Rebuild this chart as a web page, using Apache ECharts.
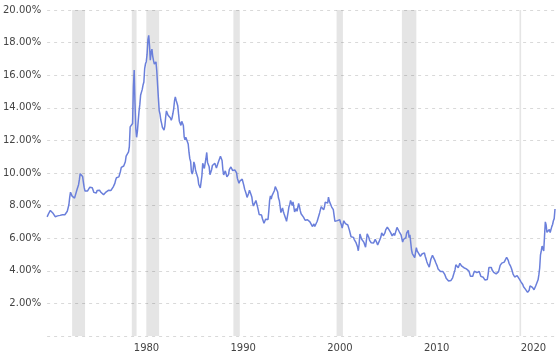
<!DOCTYPE html>
<html>
<head>
<meta charset="utf-8">
<script src="https://cdn.jsdelivr.net/npm/echarts@6/dist/echarts.min.js"></script>
<style>
  html, body { margin: 0; padding: 0; background: #fff; }
  #chart { width: 560px; height: 355px; }
</style>
</head>
<body>
<div id="chart"></div>
<script>
// 30-year fixed mortgage rate, monthly, starting April 1971
const startYear = 1971;
const startMonth = 4;
const rates = [
  /*1971*/ 7.31, 7.43, 7.53, 7.60, 7.70, 7.69, 7.63, 7.55, 7.48,
  /*1972*/ 7.44, 7.32, 7.29, 7.29, 7.37, 7.37, 7.40, 7.40, 7.43, 7.45, 7.44, 7.44,
  /*1973*/ 7.44, 7.44, 7.46, 7.54, 7.65, 7.73, 8.05, 8.50, 8.82, 8.77, 8.58, 8.54,
  /*1974*/ 8.54, 8.46, 8.41, 8.58, 8.97, 9.09, 9.28, 9.59, 9.96, 10.02, 9.98, 9.79,
  /*1975*/ 9.43, 9.10, 8.89, 8.82, 8.91, 8.89, 8.84, 8.95, 9.13, 9.22, 9.14, 9.10,
  /*1976*/ 9.02, 8.81, 8.76, 8.73, 8.77, 8.92, 8.99, 8.98, 8.94, 8.86, 8.80, 8.73,
  /*1977*/ 8.72, 8.67, 8.69, 8.75, 8.83, 8.86, 8.94, 8.94, 8.90, 8.92, 8.92, 8.96,
  /*1978*/ 9.02, 9.15, 9.20, 9.36, 9.57, 9.71, 9.74, 9.78, 9.76, 9.86, 10.11, 10.35,
  /*1979*/ 10.39, 10.41, 10.43, 10.50, 10.69, 11.04, 11.09, 11.09, 11.30, 11.64, 12.83, 12.90,
  /*1980*/ 12.88, 13.04, 15.28, 16.32, 14.26, 12.71, 12.19, 12.56, 13.20, 13.79, 14.21, 14.79,
  /*1981*/ 14.90, 15.13, 15.40, 15.58, 16.40, 16.70, 16.83, 17.29, 18.16, 18.45, 17.83, 16.92,
  /*1982*/ 17.40, 17.60, 17.16, 16.89, 16.68, 16.70, 16.82, 16.27, 15.43, 14.61, 13.83, 13.62,
  /*1983*/ 13.25, 13.04, 12.80, 12.78, 12.63, 12.87, 13.42, 13.81, 13.73, 13.54, 13.44, 13.42,
  /*1984*/ 13.37, 13.23, 13.39, 13.65, 13.94, 14.42, 14.67, 14.47, 14.35, 14.13, 13.64, 13.18,
  /*1985*/ 13.08, 12.92, 13.17, 13.20, 12.91, 12.22, 12.03, 12.19, 12.19, 12.14, 11.78, 11.26,
  /*1986*/ 10.88, 10.71, 10.08, 9.94, 10.14, 10.68, 10.51, 10.20, 10.01, 9.98, 9.70, 9.31,
  /*1987*/ 9.20, 9.08, 9.04, 9.83, 10.60, 10.54, 10.28, 10.33, 10.89, 11.26, 10.65, 10.64,
  /*1988*/ 10.38, 9.89, 9.93, 10.20, 10.46, 10.46, 10.43, 10.60, 10.48, 10.30, 10.27, 10.61,
  /*1989*/ 10.73, 10.65, 11.03, 11.05, 10.77, 10.20, 9.88, 9.99, 10.13, 9.95, 9.77, 9.74,
  /*1990*/ 9.90, 10.20, 10.27, 10.37, 10.48, 10.16, 10.04, 10.10, 10.18, 10.18, 10.01, 9.67,
  /*1991*/ 9.64, 9.37, 9.50, 9.49, 9.47, 9.62, 9.58, 9.24, 9.01, 8.86, 8.71, 8.50,
  /*1992*/ 8.43, 8.76, 8.94, 8.85, 8.67, 8.51, 8.13, 7.98, 7.92, 8.09, 8.31, 8.22,
  /*1993*/ 7.92, 7.71, 7.46, 7.46, 7.47, 7.42, 7.21, 7.11, 6.92, 6.83, 7.16, 7.17,
  /*1994*/ 7.06, 7.15, 7.68, 8.32, 8.60, 8.40, 8.61, 8.51, 8.64, 8.93, 9.17, 9.20,
  /*1995*/ 9.15, 8.83, 8.46, 8.32, 7.96, 7.57, 7.61, 7.86, 7.64, 7.48, 7.38, 7.20,
  /*1996*/ 7.03, 7.08, 7.62, 7.93, 8.07, 8.32, 8.25, 8.00, 8.23, 7.92, 7.62, 7.60,
  /*1997*/ 7.82, 7.65, 7.90, 8.14, 7.94, 7.69, 7.50, 7.48, 7.43, 7.29, 7.21, 7.10,
  /*1998*/ 6.99, 7.04, 7.13, 7.14, 7.14, 7.00, 6.95, 6.92, 6.72, 6.71, 6.87, 6.72,
  /*1999*/ 6.79, 6.81, 7.04, 6.92, 7.15, 7.55, 7.63, 7.94, 7.82, 7.85, 7.74, 7.91,
  /*2000*/ 8.21, 8.33, 8.24, 8.15, 8.52, 8.29, 8.15, 8.03, 7.91, 7.80, 7.75, 7.38,
  /*2001*/ 7.03, 7.05, 6.95, 7.08, 7.15, 7.16, 7.13, 6.95, 6.82, 6.62, 6.66, 7.07,
  /*2002*/ 7.00, 6.89, 7.01, 6.99, 6.81, 6.65, 6.49, 6.29, 6.09, 6.11, 6.07, 6.05,
  /*2003*/ 5.92, 5.84, 5.75, 5.81, 5.48, 5.23, 5.63, 6.26, 6.15, 5.95, 5.93, 5.88,
  /*2004*/ 5.74, 5.64, 5.45, 5.83, 6.27, 6.29, 6.06, 5.87, 5.75, 5.72, 5.73, 5.75,
  /*2005*/ 5.71, 5.63, 5.93, 5.86, 5.72, 5.58, 5.70, 5.82, 5.77, 6.07, 6.33, 6.27,
  /*2006*/ 6.15, 6.25, 6.32, 6.51, 6.60, 6.68, 6.76, 6.52, 6.40, 6.36, 6.24, 6.14,
  /*2007*/ 6.22, 6.29, 6.16, 6.18, 6.26, 6.66, 6.70, 6.57, 6.38, 6.38, 6.21, 6.10,
  /*2008*/ 5.76, 5.92, 5.97, 5.92, 6.04, 6.32, 6.43, 6.48, 6.04, 6.20, 6.09, 5.29,
  /*2009*/ 5.06, 5.13, 5.00, 4.81, 4.86, 5.42, 5.22, 5.19, 5.06, 4.95, 4.88, 4.93,
  /*2010*/ 5.03, 4.99, 4.97, 5.10, 4.89, 4.74, 4.56, 4.43, 4.35, 4.23, 4.30, 4.71,
  /*2011*/ 4.76, 4.95, 4.84, 4.84, 4.64, 4.51, 4.55, 4.27, 4.11, 4.07, 3.99, 3.96,
  /*2012*/ 3.92, 3.89, 3.95, 3.91, 3.80, 3.68, 3.55, 3.60, 3.50, 3.38, 3.35, 3.35,
  /*2013*/ 3.41, 3.53, 3.57, 3.45, 3.54, 4.07, 4.37, 4.46, 4.49, 4.19, 4.26, 4.46,
  /*2014*/ 4.43, 4.30, 4.34, 4.34, 4.19, 4.16, 4.13, 4.12, 4.16, 4.04, 4.00, 3.86,
  /*2015*/ 3.67, 3.71, 3.77, 3.67, 3.84, 3.98, 4.05, 3.91, 3.89, 3.80, 3.94, 3.96,
  /*2016*/ 3.87, 3.66, 3.69, 3.61, 3.60, 3.57, 3.44, 3.44, 3.46, 3.47, 3.77, 4.20,
  /*2017*/ 4.15, 4.17, 4.20, 4.05, 4.01, 3.90, 3.97, 3.88, 3.81, 3.90, 3.92, 3.95,
  /*2018*/ 4.03, 4.33, 4.44, 4.47, 4.59, 4.57, 4.53, 4.55, 4.63, 4.83, 4.87, 4.64,
  /*2019*/ 4.46, 4.37, 4.27, 4.14, 4.07, 3.80, 3.77, 3.62, 3.61, 3.69, 3.70, 3.72,
  /*2020*/ 3.62, 3.47, 3.45, 3.31, 3.23, 3.16, 3.02, 2.94, 2.89, 2.83, 2.77, 2.68,
  /*2021*/ 2.74, 2.81, 3.08, 3.06, 2.96, 2.98, 2.87, 2.84, 2.90, 3.07, 3.07, 3.10,
  /*2022*/ 3.45, 3.76, 4.17, 4.98, 5.23, 5.52, 5.41, 5.22, 6.11, 7.00, 6.81, 6.36,
  /*2023*/ 6.27, 6.26, 6.54, 6.34, 6.43, 6.71, 6.84, 7.07, 7.20, 7.79
];

// recession periods (decimal years)
const recessionStart = [1973.83, 1980.0, 1981.5, 1990.5, 2001.17, 2007.92, 2020.08];
const recessionEnd   = [1975.17, 1980.5, 1982.83, 1991.17, 2001.83, 2009.42, 2020.25];

const yearLabels = [1980, 1990, 2000, 2010, 2020];
const yTicks = [0, 2, 4, 6, 8, 10, 12, 14, 16, 18, 20];

const seriesData = rates.map((v, i) => [startYear + (startMonth - 1 + i) / 12, v]);
const xMin = seriesData[0][0];
const xMax = seriesData[seriesData.length - 1][0];

const bands = recessionStart.map((s, i) => [{ xAxis: s }, { xAxis: recessionEnd[i] }]);

const chart = echarts.init(document.getElementById('chart'), null, { renderer: 'canvas' });

chart.setOption({
  animation: false,
  backgroundColor: '#fff',
  grid: { left: 47, right: 5, top: 10, bottom: 19 },
  xAxis: {
    type: 'value',
    min: xMin,
    max: xMax,
    axisLine: { show: false },
    axisTick: { show: false },
    splitLine: { show: false },
    axisLabel: {
      customValues: yearLabels,
      align: 'left',
      padding: [0, 0, 0, 2],
      margin: 7,
      color: '#444',
      fontFamily: 'DejaVu Sans',
      fontSize: 10,
      formatter: (v) => String(v),
    },
  },
  yAxis: {
    type: 'value',
    min: 0,
    max: 20,
    interval: 2,
    axisLine: { show: false },
    axisTick: { show: false },
    axisLabel: {
      margin: 6,
      color: '#444',
      fontFamily: 'DejaVu Sans',
      fontSize: 10,
      formatter: (v) => (v === 0 ? '' : v.toFixed(2) + '%'),
    },
    splitLine: {
      show: true,
      lineStyle: { color: '#d9d9d9', type: [3, 4], width: 1 },
    },
  },
  series: [
    {
      name: 'recessions',
      type: 'line',
      data: [],
      silent: true,
      markArea: {
        silent: true,
        itemStyle: { color: 'rgba(0,0,0,0.1)' },
        data: bands,
      },
    },
    {
      name: '30 Year Mortgage Rate',
      type: 'line',
      data: seriesData,
      showSymbol: false,
      symbol: 'none',
      lineStyle: { color: '#6a7fdb', width: 1.5 },
    },
  ],
});
</script>
</body>
</html>
